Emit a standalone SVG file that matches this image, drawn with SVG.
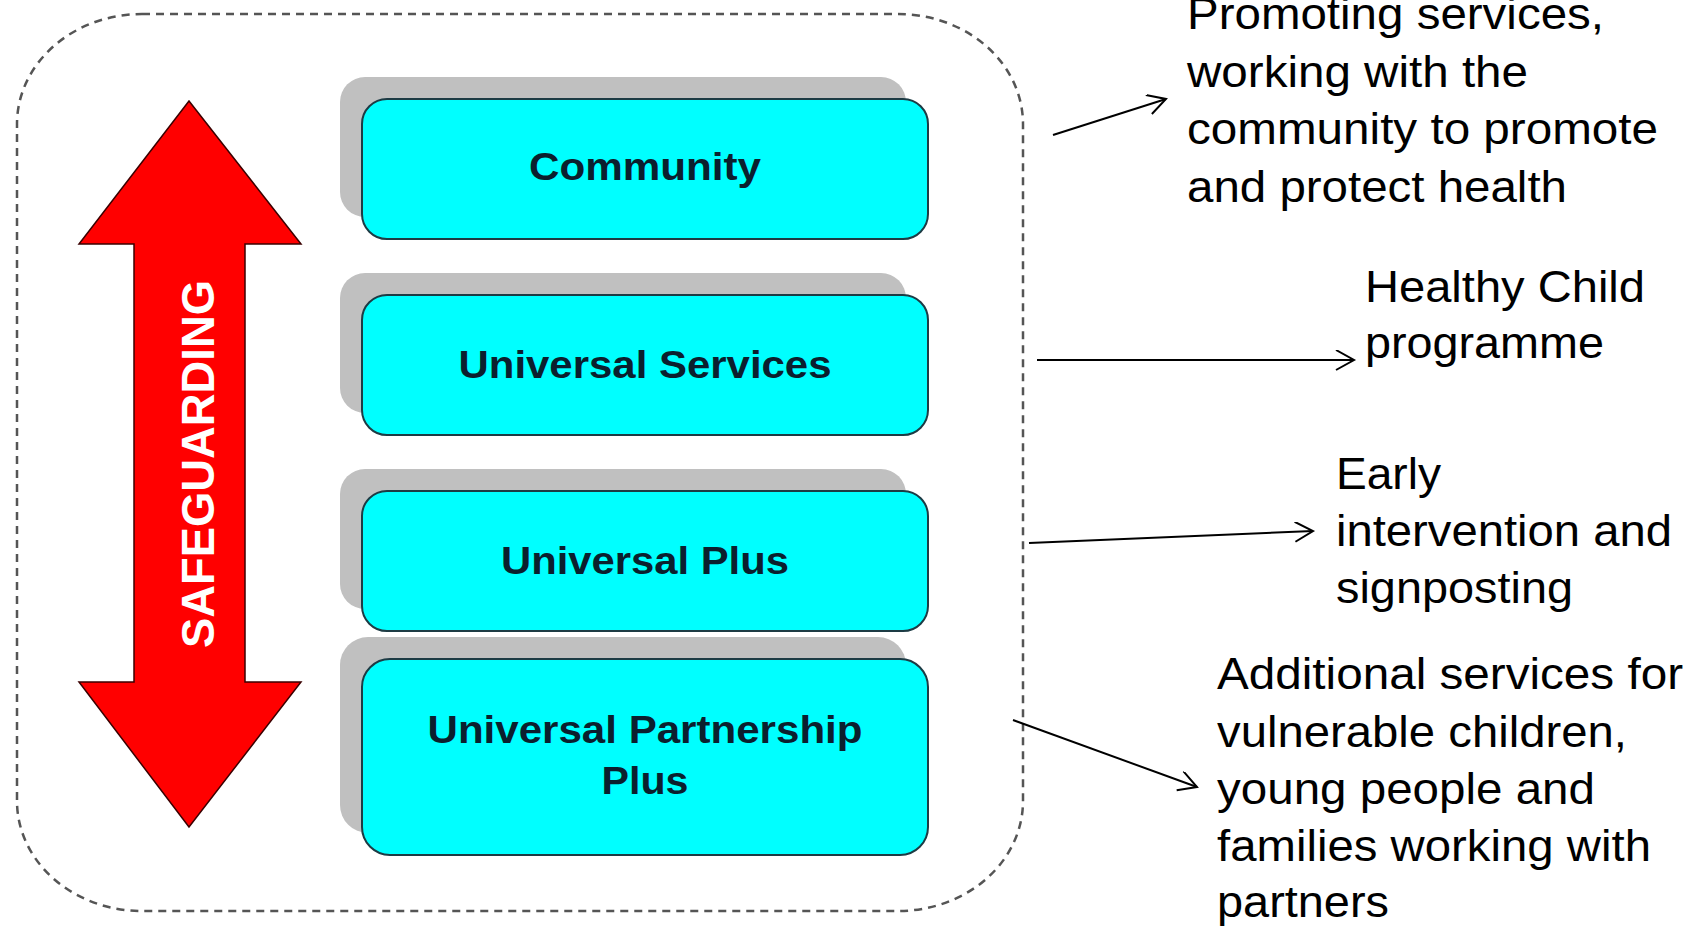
<svg xmlns="http://www.w3.org/2000/svg" width="1702" height="926" viewBox="0 0 1702 926">
<style>
.box{fill:#00ffff;stroke:#1d3b44;stroke-width:2}
.shadow{fill:#c0c0c0}
.lbl{font-family:"Liberation Sans",Arial,sans-serif;font-weight:bold;font-size:38px;fill:#0b1f2e;text-anchor:middle}
.note{font-family:"Liberation Sans",Arial,sans-serif;font-size:44px;fill:#000}
.conn{stroke:#000;stroke-width:2;fill:none;marker-end:url(#open)}
</style>
<defs>
<marker id="open" markerUnits="userSpaceOnUse" markerWidth="24" markerHeight="24" refX="19" refY="10" orient="auto" viewBox="0 0 24 24">
<path d="M1,0 L19,10 L1,20" fill="none" stroke="#000" stroke-width="2"/>
</marker>
</defs>
<rect width="1702" height="926" fill="#fff"/>
<g id="frame">
<rect x="17" y="14" width="1006" height="897" rx="125" ry="110" fill="none" stroke="#555" stroke-width="2.5" stroke-dasharray="8 6"/>
</g>
<g id="safeguarding">
<polygon points="189,101 301,244 245,244 245,682 301,682 189,827 79,682 134,682 134,244 79,244" fill="#ff0000" stroke="#3a0000" stroke-width="1.5"/>
<text transform="translate(214,464) rotate(-90)" font-family="Liberation Sans, Arial, sans-serif" font-weight="bold" font-size="46" fill="#fff" text-anchor="middle" textLength="368" lengthAdjust="spacingAndGlyphs">SAFEGUARDING</text>
</g>
<g id="community">
<rect class="shadow" x="340" y="77" width="566" height="140" rx="25"/>
<rect class="box" x="362" y="99" width="566" height="140" rx="25"/>
<text class="lbl" x="645" y="180" textLength="232" lengthAdjust="spacingAndGlyphs">Community</text>
</g>
<g id="universal-services">
<rect class="shadow" x="340" y="273" width="566" height="140" rx="25"/>
<rect class="box" x="362" y="295" width="566" height="140" rx="25"/>
<text class="lbl" x="645" y="378" textLength="373" lengthAdjust="spacingAndGlyphs">Universal Services</text>
</g>
<g id="universal-plus">
<rect class="shadow" x="340" y="469" width="566" height="140" rx="25"/>
<rect class="box" x="362" y="491" width="566" height="140" rx="25"/>
<text class="lbl" x="645" y="574" textLength="288" lengthAdjust="spacingAndGlyphs">Universal Plus</text>
</g>
<g id="universal-partnership-plus">
<rect class="shadow" x="340" y="637" width="566" height="196" rx="28"/>
<rect class="box" x="362" y="659" width="566" height="196" rx="28"/>
<text class="lbl" x="645" y="743" textLength="435" lengthAdjust="spacingAndGlyphs">Universal Partnership</text>
<text class="lbl" x="645" y="794" textLength="87" lengthAdjust="spacingAndGlyphs">Plus</text>
</g>
<g id="connectors">
<line class="conn" x1="1053" y1="135" x2="1166" y2="99"/>
<line class="conn" x1="1037" y1="360" x2="1354" y2="360"/>
<line class="conn" x1="1029" y1="543" x2="1313" y2="531"/>
<line class="conn" x1="1013" y1="720" x2="1197" y2="787"/>
</g>
<g id="note-community">
<text class="note" x="1187" y="29" textLength="417" lengthAdjust="spacingAndGlyphs">Promoting services,</text>
<text class="note" x="1187" y="87" textLength="341" lengthAdjust="spacingAndGlyphs">working with the</text>
<text class="note" x="1187" y="144" textLength="471" lengthAdjust="spacingAndGlyphs">community to promote</text>
<text class="note" x="1187" y="202" textLength="380" lengthAdjust="spacingAndGlyphs">and protect health</text>
</g>
<g id="note-universal">
<text class="note" x="1365" y="302" textLength="280" lengthAdjust="spacingAndGlyphs">Healthy Child</text>
<text class="note" x="1365" y="358" textLength="239" lengthAdjust="spacingAndGlyphs">programme</text>
</g>
<g id="note-plus">
<text class="note" x="1336" y="489" textLength="105" lengthAdjust="spacingAndGlyphs">Early</text>
<text class="note" x="1336" y="546" textLength="336" lengthAdjust="spacingAndGlyphs">intervention and</text>
<text class="note" x="1336" y="603" textLength="237" lengthAdjust="spacingAndGlyphs">signposting</text>
</g>
<g id="note-partnership">
<text class="note" x="1217" y="689" textLength="466" lengthAdjust="spacingAndGlyphs">Additional services for</text>
<text class="note" x="1217" y="747" textLength="410" lengthAdjust="spacingAndGlyphs">vulnerable children,</text>
<text class="note" x="1217" y="804" textLength="378" lengthAdjust="spacingAndGlyphs">young people and</text>
<text class="note" x="1217" y="861" textLength="434" lengthAdjust="spacingAndGlyphs">families working with</text>
<text class="note" x="1217" y="917" textLength="172" lengthAdjust="spacingAndGlyphs">partners</text>
</g>
</svg>
